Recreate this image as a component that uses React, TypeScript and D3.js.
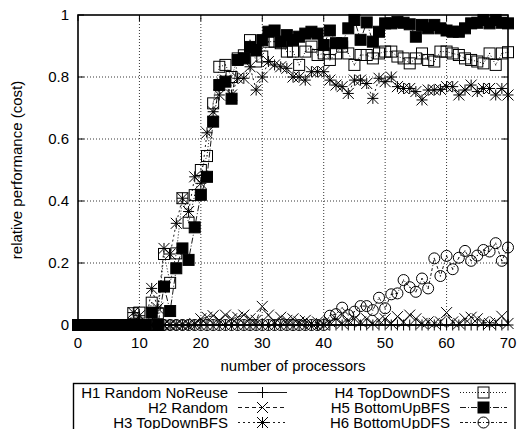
import React from "react";
import * as d3 from "d3";

const processors = d3.range(0, 71);

const h1Values = [
  0, 0, 0, 0, 0, 0, 0, 0, 0, 0,
  0, 0, 0, 0, 0, 0, 0, 0, 0, 0,
  0, 0, 0, 0, 0, 0, 0, 0, 0, 0,
  0, 0, 0, 0, 0, 0, 0, 0, 0, 0,
  0, 0, 0, 0, 0, 0, 0, 0, 0, 0,
  0, 0, 0, 0, 0, 0, 0, 0, 0, 0,
  0, 0, 0, 0, 0, 0, 0, 0, 0, 0,
  0,
];
const h2Values = [
  0, 0, 0, 0, 0, 0, 0, 0, 0, 0,
  0, 0, 0, 0, 0, 0, 0, 0, 0, 0.005,
  0.02, 0.025, 0.03, 0.015, 0.032, 0.02, 0.025, 0.032, 0.02, 0.015,
  0.06, 0.032, 0.01, 0.025, 0.015, 0.02, 0.01, 0.015, 0.005, 0.01,
  0, 0.01, 0.02, 0.005, 0.015, 0.02, 0.01, 0.02, 0.005, 0.015,
  0.02, 0.005, 0.027, 0.01, 0.032, 0.02, 0.005, 0.01, 0.005, 0.01,
  0.04, 0.01, 0.005, 0.02, 0.025, 0.02, 0.01, 0.005, 0.01, 0.028,
  0.005,
];
const h3Values = [
  0, 0, 0, 0, 0, 0, 0, 0, 0, 0.04,
  0.03, 0, 0.118, 0.054, 0.247, 0.229, 0.328, 0.409, 0.366, 0.478,
  0.457, 0.62, 0.688, 0.742, 0.79, 0.742, 0.796, 0.796, 0.833, 0.758,
  0.8, 0.85, 0.839, 0.833, 0.828, 0.8, 0.8, 0.79, 0.817, 0.817,
  0.817, 0.79, 0.774, 0.769, 0.747, 0.79, 0.79, 0.779, 0.731, 0.796,
  0.785, 0.8, 0.769, 0.763, 0.763, 0.753, 0.726, 0.758, 0.758, 0.76,
  0.769, 0.769, 0.742, 0.758, 0.774, 0.753, 0.763, 0.763, 0.742, 0.763,
  0.742,
];
const h4Values = [
  0, 0, 0, 0, 0, 0, 0, 0, 0, 0.038,
  0.04, 0, 0.072, 0.038, 0.229, 0.136, 0.231, 0.409, 0.33, 0.419,
  0.5, 0.545, 0.715, 0.833, 0.839, 0.8, 0.86, 0.87, 0.919, 0.85,
  0.866, 0.914, 0.914, 0.909, 0.882, 0.882, 0.839, 0.882, 0.898, 0.871,
  0.876, 0.855, 0.876, 0.898, 0.876, 0.839, 0.871, 0.871, 0.86, 0.876,
  0.882, 0.882, 0.866, 0.86, 0.844, 0.86, 0.876, 0.855, 0.85, 0.882,
  0.882, 0.876, 0.871, 0.86, 0.855, 0.85, 0.844, 0.876, 0.839, 0.876,
  0.88,
];
const h5Values = [
  0, 0, 0, 0, 0, 0, 0, 0, 0, 0,
  0, 0, 0.04, 0, 0.124, 0.045, 0.183, 0.247, 0.21, 0.315,
  0.42, 0.478, 0.656, 0.774, 0.785, 0.73, 0.855, 0.86, 0.897, 0.887,
  0.919, 0.946, 0.95, 0.914, 0.935, 0.919, 0.93, 0.94, 0.946, 0.94,
  0.903, 0.95, 0.909, 0.909, 0.957, 0.984, 0.92, 0.976, 0.914, 0.946,
  0.973, 0.973, 0.978, 0.975, 0.97, 0.93, 0.968, 0.957, 0.968, 0.957,
  0.95, 0.946, 0.946, 0.957, 0.973, 0.975, 0.984, 0.973, 0.984, 0.975,
  0.973,
];
const h6Values = [
  0, 0, 0, 0, 0, 0, 0, 0, 0, 0,
  0, 0, 0, 0, 0, 0, 0, 0, 0, 0,
  0, 0, 0, 0, 0, 0, 0, 0, 0, 0,
  0, 0, 0, 0, 0, 0, 0, 0, 0, 0,
  0, 0.03, 0.035, 0.056, 0.032, 0.043, 0.061, 0.061, 0.048, 0.088,
  0.054, 0.099, 0.102, 0.145, 0.122, 0.107, 0.15, 0.118, 0.215, 0.158,
  0.223, 0.18, 0.217, 0.239, 0.207, 0.224, 0.242, 0.237, 0.264, 0.207,
  0.25,
];

const seriesNames = [
  "H1 Random NoReuse",
  "H2 Random",
  "H3 TopDownBFS",
  "H4 TopDownDFS",
  "H5 BottomUpBFS",
  "H6 BottomUpDFS",
];
const seriesValues = [h1Values, h2Values, h3Values, h4Values, h5Values, h6Values];
const markerTypes = ["plus", "cross", "star", "box", "fbox", "circle"];
const dashes = ["none", "4,3", "2,3", "1,2", "6,2,1,2", "3,2,3,2,1,2"];

const xTicks = [0, 10, 20, 30, 40, 50, 60, 70];
const yTicks = [0, 0.2, 0.4, 0.6, 0.8, 1];
const xTitle = "number of processors";
const yTitle = "relative performance (cost)";

const FONT = "'Liberation Sans', Arial, Helvetica, sans-serif";

function Marker({ type, cx, cy, s = 5.5 }: { type: string; cx: number; cy: number; s?: number }) {
  const st = { stroke: "#000", strokeWidth: 1 };
  if (type === "plus") {
    return <path d={`M${cx - s},${cy}H${cx + s}M${cx},${cy - s}V${cy + s}`} {...st} fill="none" />;
  }
  if (type === "cross") {
    return (
      <path
        d={`M${cx - s},${cy - s}L${cx + s},${cy + s}M${cx - s},${cy + s}L${cx + s},${cy - s}`}
        {...st}
        fill="none"
      />
    );
  }
  if (type === "star") {
    return (
      <path
        d={`M${cx - s},${cy}H${cx + s}M${cx},${cy - s}V${cy + s}M${cx - s},${cy - s}L${cx + s},${cy + s}M${cx - s},${cy + s}L${cx + s},${cy - s}`}
        {...st}
        fill="none"
      />
    );
  }
  if (type === "box") {
    return (
      <g>
        <rect x={cx - s} y={cy - s} width={2 * s} height={2 * s} fill="none" {...st} />
        <rect x={cx - 0.5} y={cy - 0.5} width={1} height={1} fill="#000" />
      </g>
    );
  }
  if (type === "fbox") {
    return <rect x={cx - s} y={cy - s} width={2 * s} height={2 * s} fill="#000" {...st} />;
  }
  return (
    <g>
      <circle cx={cx} cy={cy} r={s} fill="none" {...st} />
      <rect x={cx - 0.5} y={cy - 0.5} width={1} height={1} fill="#000" />
    </g>
  );
}

export default function App() {
  const W = 517;
  const H = 429;
  const left = 78;
  const right = 508;
  const top = 15;
  const bottom = 325;
  const x = d3.scaleLinear().domain([0, 70]).range([left, right]);
  const y = d3.scaleLinear().domain([0, 1]).range([bottom, top]);

  const line = d3
    .line<{ x: number; v: number }>()
    .x((d) => x(d.x))
    .y((d) => y(d.v));

  const legendRows = [0, 1, 2];
  const legendBase = [398, 413, 428];

  return (
    <svg
      width={W}
      height={H}
      style={{ position: "absolute", left: 0, top: 0, background: "#fff" }}
      fontFamily={FONT}
    >
      <rect x={0} y={0} width={W} height={H} fill="#fff" />
      {/* grid */}
      {xTicks
        .filter((t) => t > 0 && t < 70)
        .map((t) => (
          <line key={"gx" + t} x1={x(t)} x2={x(t)} y1={top} y2={bottom} stroke="#000" strokeWidth={0.8} strokeDasharray="1,2" />
        ))}
      {yTicks
        .filter((t) => t > 0 && t < 1)
        .map((t) => (
          <line key={"gy" + t} x1={left} x2={right} y1={y(t)} y2={y(t)} stroke="#000" strokeWidth={0.8} strokeDasharray="1,2" />
        ))}
      {/* ticks */}
      {xTicks.map((t) => (
        <g key={"tx" + t}>
          <line x1={x(t)} x2={x(t)} y1={bottom} y2={bottom - 6} stroke="#000" />
          <line x1={x(t)} x2={x(t)} y1={top} y2={top + 6} stroke="#000" />
          <text x={x(t)} y={348} fontSize={15} textAnchor="middle" fill="#000">
            {t}
          </text>
        </g>
      ))}
      {yTicks.map((t) => (
        <g key={"ty" + t}>
          <line x1={left} x2={left + 6} y1={y(t)} y2={y(t)} stroke="#000" />
          <line x1={right} x2={right - 6} y1={y(t)} y2={y(t)} stroke="#000" />
          <text x={69} y={y(t)} dy="0.36em" fontSize={15} textAnchor="end" fill="#000">
            {t}
          </text>
        </g>
      ))}
      {/* series */}
      {seriesValues.map((vals, i) => {
        const pts = processors.map((p, k) => ({ x: p, v: vals[k] }));
        return (
          <g key={"s" + i}>
            <path
              d={line(pts) || ""}
              fill="none"
              stroke="#000"
              strokeWidth={0.9}
              strokeDasharray={dashes[i] === "none" ? undefined : dashes[i]}
            />
            {pts.map((d, k) => (
              <Marker key={k} type={markerTypes[i]} cx={x(d.x)} cy={y(d.v)} />
            ))}
          </g>
        );
      })}
      {/* frame */}
      <rect x={left} y={top} width={right - left} height={bottom - top} fill="none" stroke="#000" strokeWidth={1.6} />
      {/* axis titles */}
      <text x={(left + right) / 2} y={371} fontSize={15} textAnchor="middle" fill="#000">
        {xTitle}
      </text>
      <text transform={`translate(22,${(top + bottom) / 2}) rotate(-90)`} fontSize={15} textAnchor="middle" fill="#000">
        {yTitle}
      </text>
      {/* legend */}
      <rect x={73.5} y={383.5} width={441.5} height={70} fill="#fff" stroke="#000" strokeWidth={1.4} />
      {seriesNames.map((name, i) => {
        const col = i < 3 ? 0 : 1;
        const row = legendRows[i % 3];
        const textX = col === 0 ? 228 : 450;
        const x1 = col === 0 ? 238 : 460;
        const x2 = col === 0 ? 287 : 507;
        const by = legendBase[row];
        const cy = by - 5.5;
        return (
          <g key={"lg" + i}>
            <text x={textX} y={by} fontSize={15} textAnchor="end" fill="#000">
              {name}
            </text>
            <line
              x1={x1}
              x2={x2}
              y1={cy}
              y2={cy}
              stroke="#000"
              strokeWidth={0.9}
              strokeDasharray={dashes[i] === "none" ? undefined : dashes[i]}
            />
            <Marker type={markerTypes[i]} cx={(x1 + x2) / 2} cy={cy} />
          </g>
        );
      })}
    </svg>
  );
}
